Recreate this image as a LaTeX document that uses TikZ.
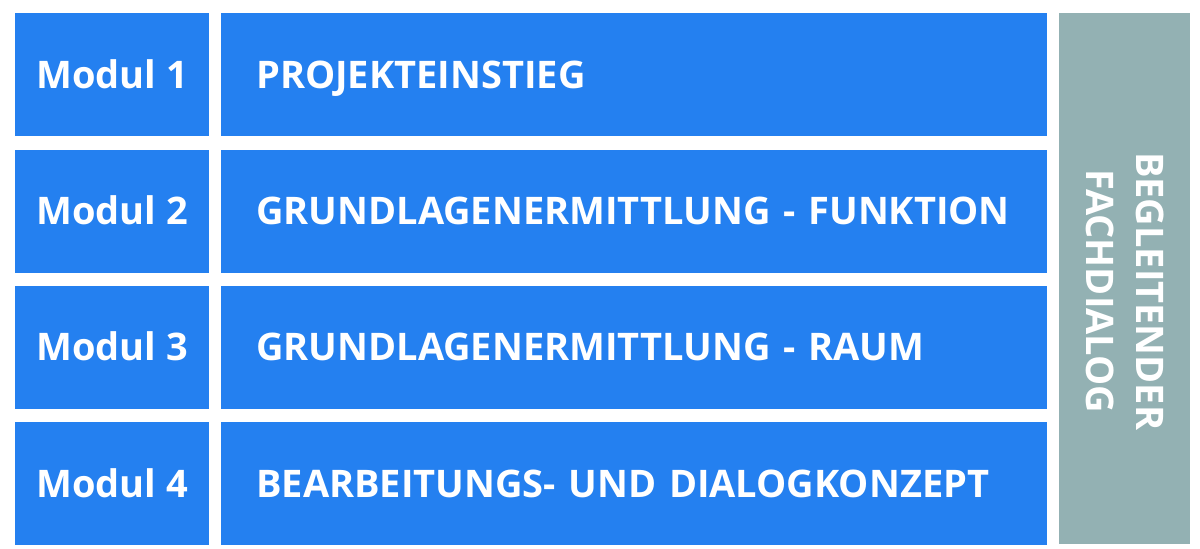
\documentclass[tikz,border=0pt]{standalone}
\usepackage{fontspec}
\setmainfont{Open Sans}
\usetikzlibrary{positioning}
\definecolor{modblue}{RGB}{36,128,240}
\definecolor{dialoggray}{RGB}{147,177,179}

\tikzset{
  modbox/.style={fill=modblue, text=white, inner sep=0pt, anchor=north west,
    minimum width=194pt, minimum height=123pt, text height=27.1pt, text depth=0pt,
    font=\fontsize{38}{45}\selectfont\bfseries},
  phasebox/.style={modbox, minimum width=826pt, text width=756pt, inner xsep=35pt, align=left},
}

\begin{document}
\begin{tikzpicture}[x=1pt, y=-1pt]

  \useasboundingbox[fill=white] (0,0) rectangle (1200,549);

  \newcommand\R{136.3};

  %% left column
  \node[modbox] (mod1) at (15, 13+0*\R) {Modul 1};
  \node[modbox] (mod2) at (15, 13+1*\R) {Modul 2};
  \node[modbox] (mod3) at (15, 13+2*\R) {Modul 3};
  \node[modbox] (mod4) at (15, 13+3*\R) {Modul 4};

  %% phases
  \node[phasebox] (phase1) at (221, 13+0*\R) {PROJEKTEINSTIEG};
  \node[phasebox] (phase2) at (221, 13+1*\R) {\mbox{GRUNDLAGENERMITTLUNG - FUNKTION}};
  \node[phasebox] (phase3) at (221, 13+2*\R) {GRUNDLAGENERMITTLUNG - RAUM};
  \node[phasebox] (phase4) at (221, 13+3*\R) {BEARBEITUNGS- UND DIALOGKONZEPT};

  % side bar
  \node[fill=dialoggray, inner sep=0pt, anchor=north west,
    minimum width=131pt, minimum height=531pt] (dialog) at (1059, 13) {};
  \node[text=white, rotate=-90, align=center, inner sep=0pt,
    font=\fontsize{38}{50}\selectfont\bfseries]
    (dialogtext) at ([yshift=-12.5pt]dialog.center) {BEGLEITENDER\\FACHDIALOG};

\end{tikzpicture}
\end{document}
